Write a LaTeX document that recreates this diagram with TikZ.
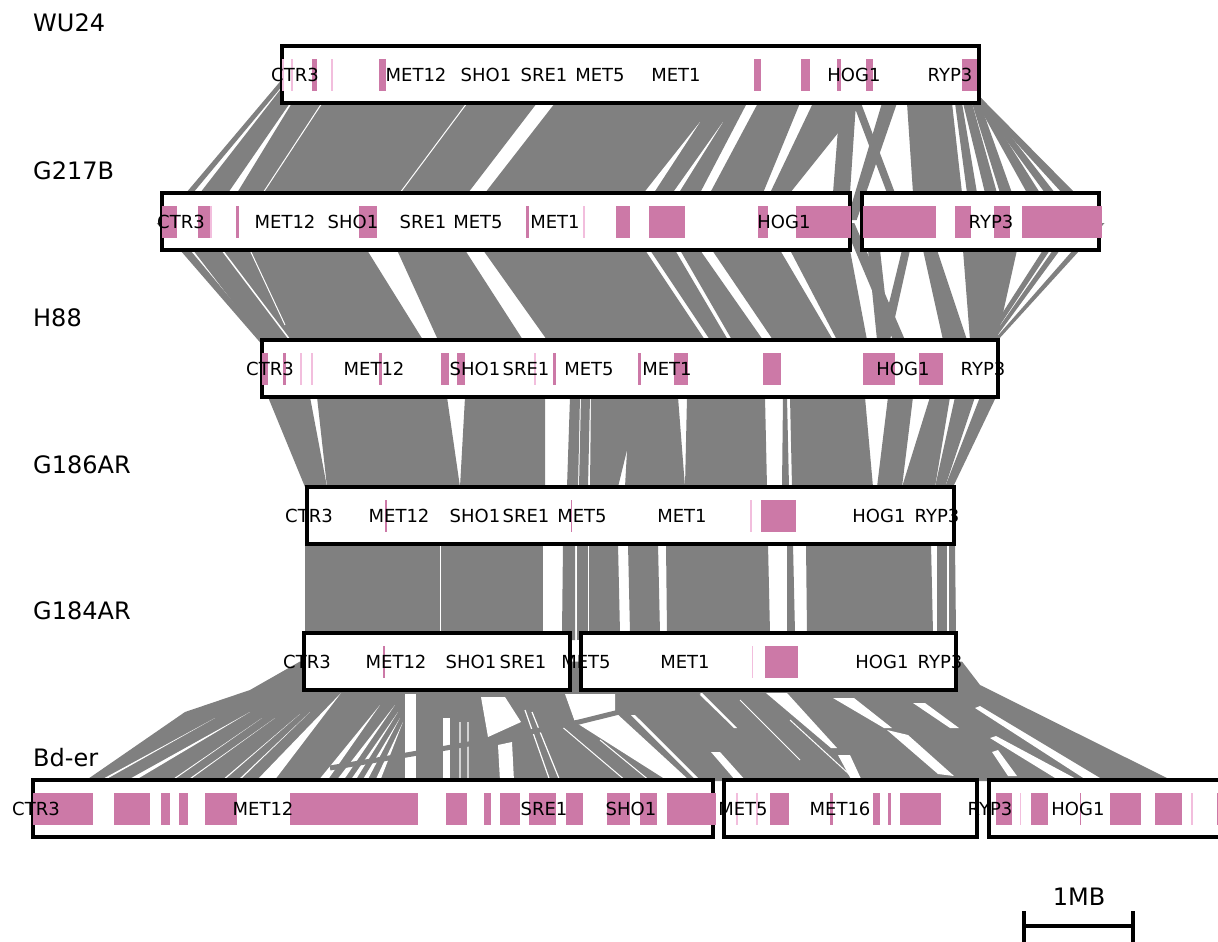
\documentclass[tikz,border=0pt]{standalone}
\usepackage{fontspec}
\setmainfont{DejaVu Sans}
\usetikzlibrary{calc}
\definecolor{pk}{HTML}{CC79A7}
\definecolor{lpk}{HTML}{F2BEDD}
\definecolor{gy}{HTML}{808080}
\tikzset{
  bandc/.style={fill=gy},
  boxc/.style={draw=black,line width=3.3pt,fill=white},
  gl/.style={font=\fontsize{18}{20}\selectfont,inner sep=0pt,anchor=base},
  ttl/.style={font=\fontsize{24}{28}\selectfont,inner sep=0pt,anchor=base west},
  bar/.style={line width=3.8pt,draw=black}
}
% band: ytop ybot a1 a2 b1 b2 ; extension factors \et (up) and \eb (down)
\def\et{1.3}\def\eb{1.3}
\newcommand\band[6]{\fill[bandc] ($(#5,#2)!\et!(#3,#1)$) -- ($(#6,#2)!\et!(#4,#1)$) -- ($(#4,#1)!\eb!(#6,#2)$) -- ($(#3,#1)!\eb!(#5,#2)$) -- cycle;}
\newcommand\wq[8]{\fill[white] (#1,#2)--(#3,#4)--(#5,#6)--(#7,#8)--cycle;}
\newcommand\wt[5]{\fill[white] (#1,#3)--(#2,#3)--(#4,#5)--cycle;}
\begin{document}
\begin{tikzpicture}[x=1pt,y=-1pt]
\clip (0,0) rectangle (1218,942);
\fill[white] (0,0) rectangle (1218,942);
% ---------- gap A : WU24 -> G217B
\def\et{1.3}\def\eb{1.3}
\foreach \a/\b/\c/\d in {262/268/186/193,270/290/200/228,292/537/237/468,555/747/485/700,758/800/710/763,813/862/770/790,840/856/833/850,853/861/887/895,882/897/855/866,907/952/913/962,955/962/967/977,963/972/985/997,972/980/1000/1012,977/983/1027/1040,979/985/1045/1055,980/986/1062/1075}
  {\band{103}{193}{\a}{\b}{\c}{\d}}
\draw[white,line width=1pt] (263,193)--(322,103);
\draw[white,line width=1pt] (400,193)--(467,103);
\wt{643}{653}{194}{700}{122}
\wt{672}{678}{194}{723}{122}
% ---------- gap B : G217B -> H88
\def\et{1.3}\def\eb{1.04}
\foreach \a/\b/\c/\d in {180/190/258/265,193/367/262/423,397/465/438/523,483/645/547/705,650/675/710/728,680/700/732/763,712/780/773/833,790/850/837/867,855/866/893/905,902/910/880/890,868/880/877/890,923/937/943/967,963/1017/970/997,1043/1050/985/990,1053/1060/990/994,1073/1080/994/998}
  {\band{250}{340}{\a}{\b}{\c}{\d}}
\draw[white,line width=1.5pt] (222,250)--(290,340);
\draw[white,line width=1pt] (250,250)--(285,325);
% ---------- gap C : H88 -> G186AR
\def\et{1.08}\def\eb{1.08}
\foreach \a/\b/\c/\d in {268/310/305/327,317/447/327/460,465/545/460/545,570/580/567/578,581/590/579/588,591/640/590/618,630/678/625/685,687/765/685/767,783/787/782/789,790/865/792/873,888/913/877/902,930/950/902/935,955/975/935/945,980/996/945/953}
  {\band{397}{487}{\a}{\b}{\c}{\d}}
% ---------- gap D : G186AR -> G184AR
\def\et{1.08}\def\eb{1.08}
\foreach \a/\b/\c/\d in {305/440/305/440,441/543/441/543,563/575/562/575,577/588/577/588,589/618/589/620,628/658/630/660,666/768/667/770,787/793/787/795,806/931/807/933,937/947/937/947,949/955/949/956}
  {\band{544}{633}{\a}{\b}{\c}{\d}}
% ---------- gap E : G184AR -> Bd-er
\fill[gy] (300,661.5)--(250,690)--(185,712)--(85,781)--(1173,781)--(980,685)--(962,661.5)--cycle;
\wt{99}{103}{781}{215}{718}
\wt{126}{134}{781}{250}{712}
\wt{170}{172}{781}{262}{718}
\wt{186}{188}{781}{275}{718}
\wt{221}{223}{781}{300}{714}
\wt{237}{239}{781}{310}{712}
\wt{256}{274}{781}{341}{693}
\wt{318}{327}{781}{380}{705}
\wt{336}{343}{781}{395}{705}
\wt{350}{355}{781}{398}{712}
\wt{362}{367}{781}{400}{718}
\wt{375}{380}{781}{403}{722}
\wq{405}{694}{416}{694}{416}{781}{405}{781}
\wq{443}{718}{450}{718}{450}{781}{443}{781}
\wq{481}{697}{505}{697}{521}{722}{488}{737}
\wq{498}{745}{512}{742}{514}{781}{500}{781}
\draw[white,line width=1.2pt] (525,710)--(550,781) (532,712)--(560,781) (460,722)--(460,781) (468,722)--(468,781);
\fill[white] (565,694)--(615,694)--(615,712)--(690,781)--(668,781)--(575,722)--cycle;
\wq{631}{715}{635}{715}{701}{781}{697}{781}
\wq{698}{693}{702}{693}{737}{728}{734}{728}
\wq{711}{752}{720}{752}{746}{781}{736}{781}
\wq{766}{693}{787}{693}{837}{748}{831}{748}
\wq{833}{698}{854}{698}{892}{728}{884}{728}
\wq{887}{730}{908}{735}{954}{776}{938}{774}
\wq{913}{703}{925}{703}{959}{728}{950}{728}
\wq{838}{755}{850}{755}{862}{781}{852}{781}
\wq{975}{708}{980}{706}{1105}{781}{1088}{781}
\fill[white] (990,738)--(996,736)--(1080,781)--(1060,781)--cycle;
\fill[white] (992,752)--(998,750)--(1017,776)--(1008,776)--cycle;
\draw[white,line width=1pt] (560,725)--(626,781) (600,740)--(650,781) (740,700)--(800,760) (790,720)--(850,775);
\draw[gy,line width=5pt] (330,768)--(418,753)--(491,740)--(579,722)--(700,692);
% ---------- boxes
\draw[boxc] (282,46) rectangle (979,103);
\draw[boxc] (162,193) rectangle (850,250);
\draw[boxc] (862,193) rectangle (1099,250);
\draw[boxc] (262,340) rectangle (998,397);
\draw[boxc] (307,487) rectangle (954,544);
\draw[boxc] (304,633) rectangle (570,690);
\draw[boxc] (581,633) rectangle (956,690);
\draw[boxc] (33,780) rectangle (713,837);
\draw[boxc] (724,780) rectangle (977,837);
\draw[boxc] (989,780) rectangle (1240,837);
% ---------- gene blocks
\foreach \a/\b in {312/317,379/386,754/761,801/810,837/841,866/873,962/977}
  \fill[pk] (\a,59) rectangle (\b,91);
\foreach \a in {283,292,332} \fill[lpk] (\a-0.8,59) rectangle (\a+0.8,91);
\foreach \a/\b in {162/177,198/210,236/239,359/377,526/529,616/630,649/685,758/768,796/851,863/936,955/971,994/1010,1022/1102}
  \fill[pk] (\a,206) rectangle (\b,238);
\foreach \a in {211,584} \fill[lpk] (\a-0.8,206) rectangle (\a+0.8,238);
\foreach \a/\b in {262/268,283/286,379/382,441/449,457/465,553/556,638/641,674/688,763/781,863/895,919/943}
  \fill[pk] (\a,353) rectangle (\b,385);
\foreach \a in {301,312,535} \fill[lpk] (\a-0.8,353) rectangle (\a+0.8,385);
\foreach \a/\b in {384.5/386.5,570.5/572,761/796}
  \fill[pk] (\a,500) rectangle (\b,532);
\fill[lpk] (750,500) rectangle (751.5,532);
\foreach \a/\b in {383/385,765/798}
  \fill[pk] (\a,646) rectangle (\b,678);
\fill[lpk] (751.5,646) rectangle (753,678);
\foreach \a/\b in {33/92.5,114/150,161/170,179/188,205/237,290/418,446/467,484/491,500/520,529/556,566/583,607/630,640/656.5,667/716,770/788.5,830/833,873/880,888/891,900/941,996/1012,1031/1048,1109.5/1141,1154.5/1182,1216.5/1222}
  \fill[pk] (\a,793) rectangle (\b,825);
\foreach \a in {737,757,1020.5,1192} \fill[lpk] (\a-0.8,793) rectangle (\a+0.8,825);
\fill[pk] (1080,793) rectangle (1081,825);
% ---------- gene labels
\foreach \x/\t [count=\i] in {295/CTR3,416/MET12,486/SHO1,544/SRE1,600/MET5,676/MET1,854/HOG1,950/RYP3}
  \node[gl] (ga\i) at (\x,81.1) {\t};
\foreach \x/\t [count=\i] in {181/CTR3,285/MET12,353/SHO1,423/SRE1,478/MET5,555/MET1,784/HOG1,991/RYP3}
  \node[gl] (gb\i) at (\x,228.1) {\t};
\foreach \x/\t [count=\i] in {270/CTR3,374/MET12,475/SHO1,526/SRE1,589/MET5,667/MET1,903/HOG1,983/RYP3}
  \node[gl] (gc\i) at (\x,375.1) {\t};
\foreach \x/\t [count=\i] in {309/CTR3,399/MET12,475/SHO1,526/SRE1,582/MET5,682/MET1,879/HOG1,937/RYP3}
  \node[gl] (gd\i) at (\x,522.1) {\t};
\foreach \x/\t [count=\i] in {307/CTR3,396/MET12,471/SHO1,523/SRE1,586/MET5,685/MET1,882/HOG1,940/RYP3}
  \node[gl] (ge\i) at (\x,668.1) {\t};
\foreach \x/\t [count=\i] in {36/CTR3,263/MET12,544/SRE1,631/SHO1,743/MET5,840/MET16,990/RYP3,1078/HOG1}
  \node[gl] (gf\i) at (\x,815.1) {\t};
% ---------- titles
\node[ttl] (t1) at (33,32) {WU24};
\node[ttl] (t2) at (33,179) {G217B};
\node[ttl] (t3) at (33,326) {H88};
\node[ttl] (t4) at (33,473) {G186AR};
\node[ttl] (t5) at (33,619) {G184AR};
\node[ttl] (t6) at (33,766) {Bd-er};
% ---------- scale bar
\coordinate (sbL) at (1024,926);
\coordinate (sbR) at (1133,926);
\coordinate (sbLt) at (1024,911);
\coordinate (sbLb) at (1024,944);
\coordinate (sbRt) at (1133,911);
\coordinate (sbRb) at (1133,944);
\draw[bar] (sbL) -- (sbR);
\draw[bar] (sbLt) -- (sbLb);
\draw[bar] (sbRt) -- (sbRb);
\node[font=\fontsize{24}{28}\selectfont,inner sep=0pt,anchor=base] (sbl) at (1079,905) {1MB};
\end{tikzpicture}
\end{document}
